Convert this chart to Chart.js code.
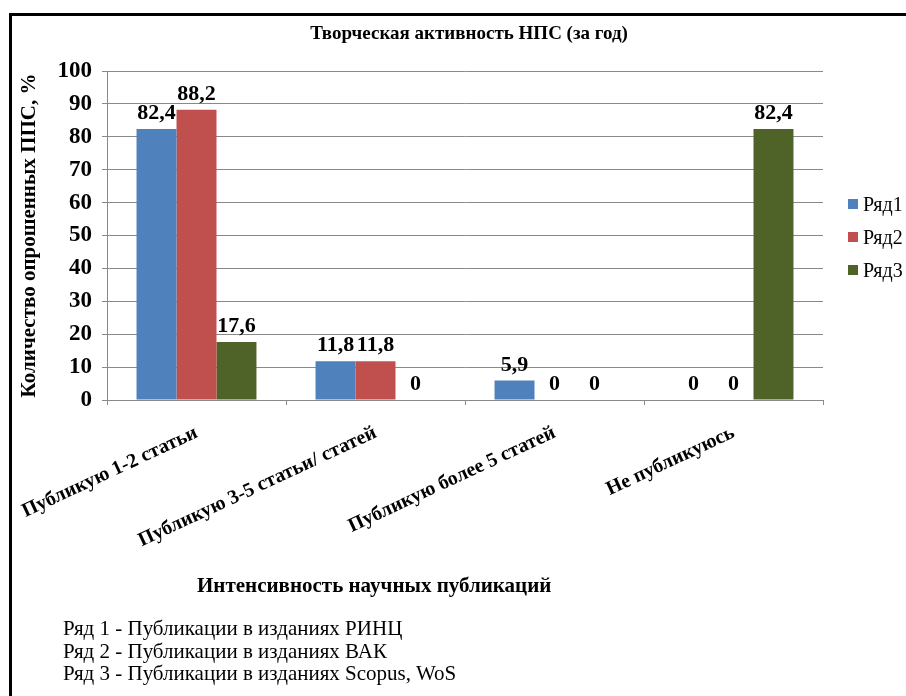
<!DOCTYPE html>
<html><head><meta charset="utf-8">
<script src="https://cdn.jsdelivr.net/npm/chart.js@4"></script>
<style>
html,body{margin:0;padding:0;background:#fff;width:906px;height:696px;overflow:hidden;}
body{font-family:"Liberation Serif","Times New Roman",serif;color:#000;}
#frame{position:absolute;left:9px;top:13px;width:1000px;height:1000px;border-top:3px solid #000;border-left:3px solid #000;box-sizing:border-box;}
#c{position:absolute;left:0;top:0;}
#title{position:absolute;left:169px;width:600px;top:23px;text-align:center;font-weight:bold;font-size:19px;line-height:19px;white-space:nowrap;}
#xtitle{position:absolute;left:197px;top:575px;font-weight:bold;font-size:21px;line-height:21px;white-space:nowrap;}
#notes{position:absolute;left:63px;top:617px;font-size:21px;line-height:22.7px;white-space:nowrap;}
#legend{position:absolute;left:848px;top:187.5px;}
.li{height:33px;display:flex;align-items:center;font-size:20px;}
.sw{width:10px;height:10px;margin-right:5px;}
</style>
</head><body>
<div id="frame"></div>
<canvas id="c" width="906" height="696"></canvas>
<div id="title"></div>
<div id="xtitle"></div>
<div id="legend"></div>
<div id="notes"></div>
<script>
const categories = ['Публикую 1-2 статьи','Публикую 3-5 статьи/ статей','Публикую более 5 статей','Не публикуюсь'];
const seriesNames = ['Ряд1','Ряд2','Ряд3'];
const ryad1 = [82.4, 11.8, 5.9, 0];
const ryad2 = [88.2, 11.8, 0, 0];
const ryad3 = [17.6, 0, 0, 82.4];
const seriesColors = ['#4F81BD','#C0504D','#4F6228'];
const yMin = 0, yMax = 100, yStep = 10;
const chartTitle = 'Творческая активность НПС (за год)';
const yTitle = 'Количество опрошенных ППС, %';
const xTitle = 'Интенсивность научных публикаций';
const notes = ['Ряд 1 - Публикации в изданиях РИНЦ','Ряд 2 - Публикации в изданиях ВАК','Ряд 3 - Публикации в изданиях Scopus, WoS'];

const SERIF = '"Liberation Serif","Times New Roman",serif';
const GRID = '#898989';

document.getElementById('title').textContent = chartTitle;
document.getElementById('xtitle').textContent = xTitle;
const notesEl = document.getElementById('notes');
notes.forEach(t=>{ const d=document.createElement('div'); d.textContent=t; notesEl.appendChild(d); });
const legendEl = document.getElementById('legend');
seriesNames.forEach((n,i)=>{
  const d = document.createElement('div'); d.className='li';
  const sw = document.createElement('span'); sw.className='sw'; sw.style.background=seriesColors[i];
  const tx = document.createElement('span'); tx.textContent=n;
  d.appendChild(sw); d.appendChild(tx);
  legendEl.appendChild(d);
});

const dataLabels = {
  id:'dataLabels',
  afterDatasetsDraw(chart){
    const ctx = chart.ctx;
    ctx.save();
    ctx.font = 'bold 22px ' + SERIF;
    ctx.fillStyle = '#000';
    ctx.textAlign = 'center';
    ctx.textBaseline = 'alphabetic';
    chart.data.datasets.forEach((ds,i)=>{
      chart.getDatasetMeta(i).data.forEach((bar,j)=>{
        ctx.fillText(String(ds.data[j]).replace('.',','), bar.x, bar.y - 10);
      });
    });
    ctx.restore();
  }
};

new Chart(document.getElementById('c'), {
  type:'bar',
  data:{
    labels: categories,
    datasets:[
      {label:seriesNames[0], data:ryad1, backgroundColor:seriesColors[0]},
      {label:seriesNames[1], data:ryad2, backgroundColor:seriesColors[1]},
      {label:seriesNames[2], data:ryad3, backgroundColor:seriesColors[2]}
    ]
  },
  options:{
    responsive:false,
    animation:false,
    datasets:{bar:{categoryPercentage:0.67, barPercentage:1.0, borderWidth:0}},
    layout:{padding:{left:12,right:83,top:71,bottom:0}},
    plugins:{
      legend:{display:false},
      tooltip:{enabled:false},
      title:{display:false}
    },
    scales:{
      x:{
        grid:{display:true,drawOnChartArea:false,drawTicks:true,tickLength:5,color:GRID,offset:true},
        border:{color:GRID},
        ticks:{color:'#000',font:{family:SERIF,size:20,weight:'bold'},minRotation:25,maxRotation:25,autoSkip:false,padding:16},
        afterFit:(s)=>{ s.height = 696-400; s.paddingLeft = 0; s.paddingRight = 0; }
      },
      y:{
        min:yMin,max:yMax,
        grid:{color:GRID,tickLength:5},
        border:{color:GRID},
        ticks:{stepSize:yStep,color:'#000',font:{family:SERIF,size:23,weight:'bold'},padding:10},
        title:{display:true,text:yTitle,color:'#000',font:{family:SERIF,size:21,weight:'bold'},padding:{top:5,bottom:0}},
        afterFit:(s)=>{ s.width = 107-12; }
      }
    }
  },
  plugins:[dataLabels]
});
</script>
</body></html>
